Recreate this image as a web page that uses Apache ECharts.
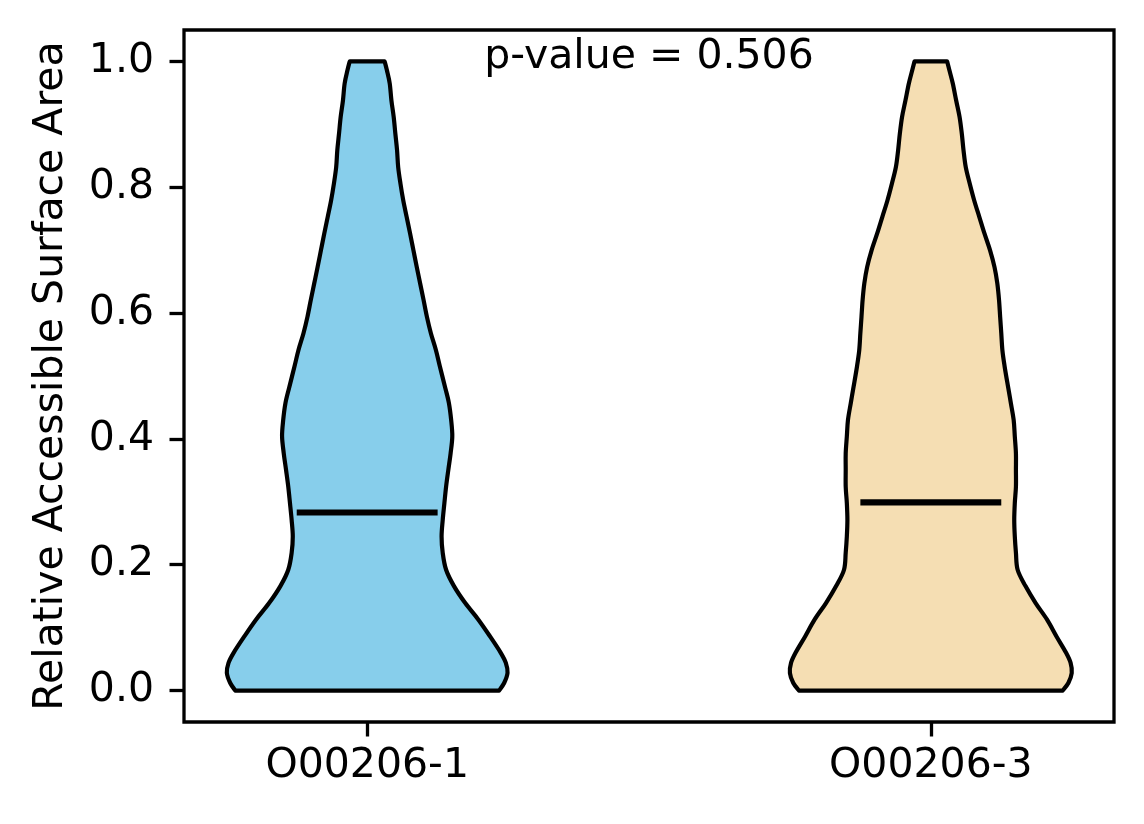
<!DOCTYPE html>
<html>
<head>
<meta charset="utf-8">
<script src="https://cdn.jsdelivr.net/npm/echarts@6/dist/echarts.min.js"></script>
<style>
html,body{margin:0;padding:0;background:#fff;}
#chart{width:1144px;height:824px;}
</style>
</head>
<body>
<div id="chart"></div>
<script>
// ---- data ----
const categories = ['O00206-1', 'O00206-3'];
const positions = [1, 2];
const yLevels = [1.0, 0.986, 0.965, 0.938, 0.912, 0.885, 0.859, 0.832, 0.806, 0.779, 0.753, 0.727, 0.700, 0.673, 0.647, 0.621, 0.594, 0.568, 0.541, 0.515, 0.483, 0.457, 0.430, 0.404, 0.377, 0.351, 0.324, 0.298, 0.271, 0.245, 0.219, 0.192, 0.166, 0.139, 0.113, 0.086, 0.060, 0.044, 0.028, 0.012, 0.0];
const halfWidth1 = [0.031, 0.035, 0.040, 0.043, 0.047, 0.050, 0.053, 0.055, 0.059, 0.064, 0.070, 0.076, 0.082, 0.088, 0.094, 0.100, 0.106, 0.113, 0.122, 0.129, 0.138, 0.145, 0.149, 0.151, 0.148, 0.144, 0.140, 0.137, 0.134, 0.132, 0.134, 0.140, 0.154, 0.174, 0.197, 0.218, 0.237, 0.246, 0.249, 0.243, 0.234];
const halfWidth3 = [0.029, 0.033, 0.039, 0.045, 0.051, 0.055, 0.058, 0.062, 0.069, 0.077, 0.086, 0.095, 0.105, 0.113, 0.118, 0.121, 0.123, 0.125, 0.127, 0.131, 0.137, 0.142, 0.147, 0.149, 0.151, 0.151, 0.151, 0.149, 0.148, 0.149, 0.151, 0.154, 0.168, 0.186, 0.206, 0.223, 0.240, 0.248, 0.250, 0.244, 0.234];
const medians = [0.283, 0.299];
const medianHalfLen = 0.125;
const yTicks = [0.0, 0.2, 0.4, 0.6, 0.8, 1.0];
const pValueText = 'p-value = 0.506';
const colors = ['#87CEEB', '#F5DEB3'];

const FONT = 'DejaVu Sans';
const FS = 41;

const chart = echarts.init(document.getElementById('chart'), null, {renderer: 'canvas'});

// smooth curve through screen points (Catmull-Rom as cubic Bezier segments)
function curveThrough(pts) {
  let s = '';
  const n = pts.length;
  for (let i = 0; i < n - 1; i++) {
    const p0 = pts[Math.max(i - 1, 0)], p1 = pts[i], p2 = pts[i + 1], p3 = pts[Math.min(i + 2, n - 1)];
    const c1x = p1[0] + (p2[0] - p0[0]) / 6, c1y = p1[1] + (p2[1] - p0[1]) / 6;
    const c2x = p2[0] - (p3[0] - p1[0]) / 6, c2y = p2[1] - (p3[1] - p1[1]) / 6;
    s += ' C' + c1x.toFixed(2) + ' ' + c1y.toFixed(2) + ' ' + c2x.toFixed(2) + ' ' + c2y.toFixed(2) + ' ' + p2[0].toFixed(2) + ' ' + p2[1].toFixed(2);
  }
  return s;
}

function violinSeries(idx, hw) {
  return {
    type: 'custom',
    coordinateSystem: 'cartesian2d',
    data: [[positions[idx], medians[idx]]],
    clip: false,
    renderItem: function (params, api) {
      const pos = api.value(0);
      const right = [], left = [];
      for (let j = 0; j < yLevels.length; j++) right.push(api.coord([pos + hw[j], yLevels[j]]));
      for (let j = yLevels.length - 1; j >= 0; j--) left.push(api.coord([pos - hw[j], yLevels[j]]));
      let d = 'M' + right[0][0].toFixed(2) + ' ' + right[0][1].toFixed(2);
      d += curveThrough(right);
      d += ' L' + left[0][0].toFixed(2) + ' ' + left[0][1].toFixed(2);
      d += curveThrough(left);
      d += ' Z';
      const m1 = api.coord([pos - medianHalfLen, api.value(1)]);
      const m2 = api.coord([pos + medianHalfLen, api.value(1)]);
      return {
        type: 'group',
        children: [
          {type: 'path', shape: {pathData: d},
           style: {fill: colors[idx], stroke: '#000', lineWidth: 4.2, lineJoin: 'round'}},
          {type: 'line', shape: {x1: m1[0], y1: m1[1], x2: m2[0], y2: m2[1]},
           style: {stroke: '#000', lineWidth: 6.2, lineCap: 'butt'}}
        ]
      };
    }
  };
}

const option = {
  backgroundColor: '#fff',
  animation: false,
  grid: {left: 184, top: 30, width: 930, height: 692, show: true, borderColor: '#000', borderWidth: 3.3, backgroundColor: 'transparent', containLabel: false, outerBoundsMode: 'none'},
  xAxis: {
    type: 'value', min: 0.675, max: 2.325,
    axisLine: {show: false, onZero: false},
    splitLine: {show: false},
    axisTick: {show: true, length: 14.5, lineStyle: {color: '#000', width: 3.3}, customValues: positions},
    axisLabel: {show: true, customValues: positions, margin: 24, color: '#000', fontFamily: FONT, fontSize: FS,
      formatter: function (v) { return categories[Math.round(v) - 1]; }}
  },
  yAxis: {
    type: 'value', min: -0.05, max: 1.05,
    axisLine: {show: false, onZero: false},
    splitLine: {show: false},
    axisTick: {show: true, length: 14.5, lineStyle: {color: '#000', width: 3.3}, customValues: yTicks},
    axisLabel: {show: true, customValues: yTicks, margin: 30, color: '#000', fontFamily: FONT, fontSize: FS,
      formatter: function (v) { return v.toFixed(1); }},
    name: 'Relative Accessible Surface Area',
    nameLocation: 'middle', nameGap: 112,
    nameTextStyle: {color: '#000', fontFamily: FONT, fontSize: FS}
  },
  graphic: [{
    type: 'text', x: 649, y: 78,
    style: {text: pValueText, fill: '#000', font: FS + 'px "' + FONT + '"', textAlign: 'center', textVerticalAlign: 'bottom'}
  }],
  series: [violinSeries(0, halfWidth1), violinSeries(1, halfWidth3)]
};
chart.setOption(option);
</script>
</body>
</html>
